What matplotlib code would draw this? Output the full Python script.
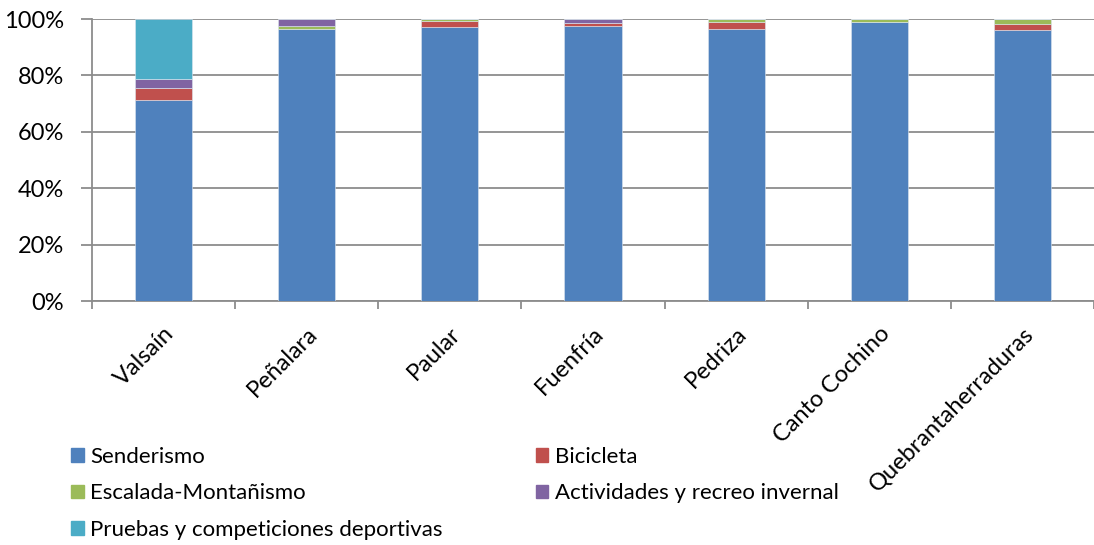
import matplotlib.pyplot as plt
import numpy as np
from matplotlib.patches import Patch
from matplotlib.ticker import PercentFormatter

plt.rcParams['font.family'] = ['Lato', 'DejaVu Sans']

sitios = ['Valsaín', 'Peñalara', 'Paular', 'Fuenfría', 'Pedriza',
          'Canto Cochino', 'Quebrantaherraduras']
actividades = ['Senderismo', 'Bicicleta', 'Escalada-Montañismo',
               'Actividades y recreo invernal', 'Pruebas y competiciones deportivas']

senderismo = [71.4, 96.5, 97.3, 97.6, 96.3, 98.8, 96.2]
bicicleta = [4.3, 0.0, 2.0, 1.1, 2.6, 0.2, 2.0]
escalada = [0.0, 1.0, 0.7, 0.0, 1.1, 1.0, 1.8]
invernal = [3.0, 2.5, 0.0, 1.3, 0.0, 0.0, 0.0]
pruebas = [21.3, 0.0, 0.0, 0.0, 0.0, 0.0, 0.0]

colores = ['#4F81BD', '#C0504D', '#9BBB59', '#8064A2', '#4BACC6']

series = [senderismo, bicicleta, escalada, invernal, pruebas]

fig = plt.figure(figsize=(10.94, 5.45), dpi=100)
ax = fig.add_axes([0.0841, 0.4477, 0.9159, 0.5174])

x = np.arange(len(sitios))
base = np.zeros(len(sitios))
for vals, col, nom in zip(series, colores, actividades):
    ax.bar(x, vals, 0.4, bottom=base, color=col, edgecolor='#dde6f0',
           linewidth=0.4, label=nom, zorder=3)
    base = base + np.array(vals)

ax.set_xlim(-0.5, len(sitios) - 0.5)
ax.set_ylim(0, 100)
ax.set_yticks(range(0, 101, 20))
ax.yaxis.set_major_formatter(PercentFormatter(decimals=0))
ax.yaxis.grid(True, color='#8c8c8c', linewidth=1.3, zorder=0)

ax.set_xticks(x)
ax.set_xticklabels(sitios, rotation=45, ha='right', rotation_mode='anchor')
ax.set_xticks(np.arange(-0.5, len(sitios)), minor=True)
ax.tick_params(axis='x', which='major', length=0, pad=16, labelsize=17)
ax.tick_params(axis='x', which='minor', length=6, color='#8c8c8c', width=1.3)
ax.tick_params(axis='y', length=8, color='#8c8c8c', width=1.3, labelsize=17, pad=12)

for s in ['top', 'right']:
    ax.spines[s].set_visible(False)
for s in ['left', 'bottom']:
    ax.spines[s].set_color('#8c8c8c')
    ax.spines[s].set_linewidth(1.3)

# leyenda en dos columnas, ordenada como en Excel
handles = [Patch(color=c) for c in colores]
orden = [0, 2, 4, 1, 3]
fig.legend([handles[i] for i in orden], [actividades[i] for i in orden],
           ncol=2, loc='upper left', bbox_to_anchor=(0.047, 0.2165),
           frameon=False, fontsize=16, handlelength=0.55, handleheight=0.55,
           handletextpad=0.3, columnspacing=4.2, labelspacing=0.74)

fig.savefig('out.png', dpi=100)
